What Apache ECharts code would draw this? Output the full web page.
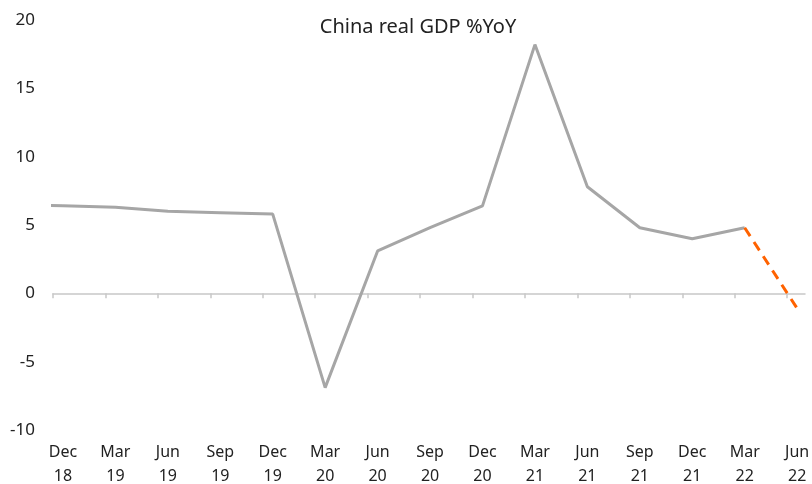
<!DOCTYPE html>
<html>
<head>
<meta charset="utf-8">
<script src="https://cdn.jsdelivr.net/npm/echarts@6/dist/echarts.min.js"></script>
<style>html,body{margin:0;padding:0;background:#fff}#c{width:812px;height:484px}</style>
</head>
<body>
<div id="c"></div>
<script>
// quarters; the first one (Sep 18) lies just left of the plotted window and is clipped
var categories = ['Sep\n18','Dec\n18','Mar\n19','Jun\n19','Sep\n19','Dec\n19','Mar\n20','Jun\n20','Sep\n20','Dec\n20','Mar\n21','Jun\n21','Sep\n21','Dec\n21','Mar\n22','Jun\n22'];
var actualGdp = [6.5, 6.4, 6.3, 6.0, 5.9, 5.8, -6.9, 3.1, 4.8, 6.4, 18.2, 7.8, 4.8, 4.0, 4.8, null];
var forecastGdp = [null, null, null, null, null, null, null, null, null, null, null, null, null, null, 4.8, -1.1];
var yTicks = [-10, -5, 0, 5, 10, 15, 20];

var font = 'Noto Sans';
var xMin = 0.81, xMax = 15.15;   // axis window in quarter-index units
function pts(arr) {
  return arr.map(function (v, i) { return [i, v]; });
}
var labelIdx = [], tickIdx = [];
for (var i = 1; i < categories.length; i++) { labelIdx.push(i); tickIdx.push(i - 0.19); }

var chart = echarts.init(document.getElementById('c'), null, {renderer: 'canvas'});
chart.setOption({
  animation: false,
  backgroundColor: '#ffffff',
  title: {
    text: 'China real GDP %YoY',
    left: 413,
    textAlign: 'center',
    top: 12,
    textStyle: {fontFamily: font, fontSize: 20, fontWeight: 'normal', color: '#222'}
  },
  grid: {left: 53, right: 7, top: 20, bottom: 54, outerBoundsMode: 'none', containLabel: false},
  xAxis: [{
    type: 'value',
    min: xMin,
    max: xMax,
    position: 'bottom',
    splitLine: {show: false},
    axisLine: {show: false, onZero: false},
    axisTick: {show: false},
    axisLabel: {
      fontFamily: font, fontSize: 16, color: '#222', lineHeight: 24, margin: 10,
      customValues: labelIdx,
      showMinLabel: true, showMaxLabel: true,
      formatter: function (v) { return categories[Math.round(v)] || ''; }
    }
  }, {
    type: 'value',
    min: xMin,
    max: xMax,
    position: 'top',
    splitLine: {show: false},
    axisLine: {show: true, onZero: true, lineStyle: {color: '#c8c8c8', width: 1.5}},
    axisTick: {show: true, inside: true, length: 5, customValues: tickIdx, lineStyle: {color: '#c8c8c8', width: 1.5}},
    axisLabel: {show: false}
  }],
  yAxis: {
    type: 'value',
    min: yTicks[0],
    max: yTicks[yTicks.length - 1],
    interval: 5,
    axisLine: {show: false},
    axisTick: {show: false},
    splitLine: {show: false},
    axisLabel: {fontFamily: font, fontSize: 17, color: '#222', margin: 18}
  },
  series: [{
    type: 'line',
    data: pts(actualGdp),
    xAxisIndex: 0,
    symbol: 'none',
    clip: true,
    lineStyle: {color: '#a6a6a6', width: 3}
  }, {
    type: 'line',
    data: pts(forecastGdp),
    xAxisIndex: 0,
    symbol: 'none',
    clip: true,
    lineStyle: {color: '#ff6200', width: 3, type: [10, 7]}
  }]
});
</script>
</body>
</html>
